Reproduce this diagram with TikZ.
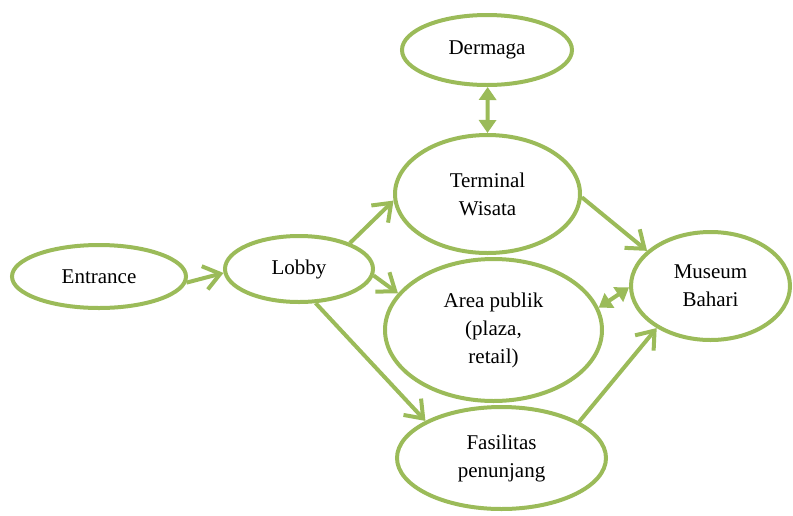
\documentclass[tikz,border=0pt]{standalone}
\usepackage{fontspec}
\setmainfont{Liberation Serif}
\usetikzlibrary{shapes.geometric,arrows.meta}
\definecolor{lgreen}{HTML}{9BBB59}
\tikzset{
  oval/.style={ellipse,draw=lgreen,line width=4pt,inner sep=0pt,align=center,
    font=\fontsize{21}{28}\selectfont,text=black},
  conn/.style={draw=lgreen,line width=4pt,line join=round,
    -{Straight Barb[length=16pt,width=24pt,line width=4pt]}},
  dconn/.style={draw=lgreen,line width=4pt,
    {Triangle[length=13pt,width=17pt]}-{Triangle[length=13pt,width=17pt]}}
}
\begin{document}
\begin{tikzpicture}[x=1pt,y=-1pt]
\useasboundingbox (0,0) rectangle (793,515);
\node[oval,minimum width=170pt,minimum height=70pt] (dermaga) at (487,50) {Dermaga};
\node[oval,minimum width=185pt,minimum height=118pt] (terminal) at (487.5,194) {Terminal\\Wisata};
\node[oval,minimum width=174pt,minimum height=63pt] (entrance) at (99,276.5) {Entrance};
\node[oval,minimum width=148pt,minimum height=66pt] (lobby) at (299,269) {Lobby};
\node[oval,minimum width=217pt,minimum height=142pt] (area) at (493.5,330) {Area publik\\(plaza,\\retail)};
\node[oval,minimum width=159pt,minimum height=108pt] (museum) at (710.5,286) {Museum\\Bahari};
\node[oval,minimum width=209pt,minimum height=102pt] (fasilitas) at (501.5,458) {Fasilitas\\penunjang};
\path[conn] (entrance.-4) -- (lobby.183);
\path[conn] (lobby.27) -- (terminal.184);
\path[conn] (lobby.-5) -- (area.159);
\path[conn] (lobby.-64) -- (fasilitas.154);
\path[dconn] (dermaga.-89) -- (terminal.90);
\path[conn] (terminal.-2) -- (museum.151);
\path[dconn] (area.12) -- (museum.181);
\path[conn] (fasilitas.25) -- (museum.218);
\end{tikzpicture}
\end{document}
